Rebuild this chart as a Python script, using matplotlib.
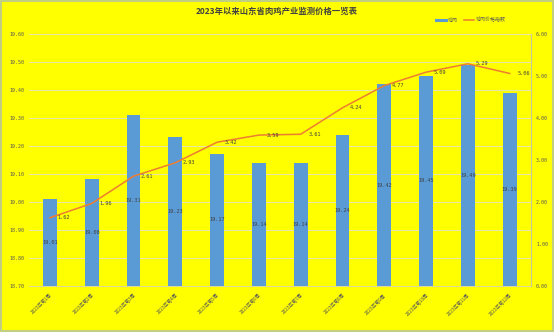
import matplotlib
matplotlib.use("Agg")
import matplotlib.pyplot as plt
from matplotlib.patches import Rectangle

plt.rcParams['font.family'] = ['Noto Sans CJK SC', 'DejaVu Sans']

weeks = ["2023年第1周", "2023年第2周", "2023年第3周", "2023年第4周", "2023年第5周", "2023年第6周",
         "2023年第7周", "2023年第8周", "2023年第9周", "2023年第10周", "2023年第11周", "2023年第12周"]
chicken = [19.01, 19.08, 19.31, 19.23, 19.17, 19.14, 19.14, 19.24, 19.42, 19.45, 19.49, 19.39]
index_vals = [1.62, 1.96, 2.61, 2.93, 3.42, 3.59, 3.61, 4.24, 4.77, 5.09, 5.29, 5.06]
left_ticks = [18.70, 18.80, 18.90, 19.00, 19.10, 19.20, 19.30, 19.40, 19.50, 19.60]
right_ticks = [0, 1, 2, 3, 4, 5, 6]

bg = "#FFFF00"
bar_color = "#5B9BD5"
line_color = "#ED7D31"
text_color = "#595959"
num_font = ["DejaVu Sans Mono"]

fig = plt.figure(figsize=(5.54, 3.32), dpi=100, facecolor=bg)
fig.patches.append(Rectangle((0.002, 0.003), 0.996, 0.994, transform=fig.transFigure,
                             fill=False, edgecolor="#B5C79A", linewidth=1.2))

ax = fig.add_axes([0.0524, 0.1395, 0.9052, 0.7581])
ax.set_facecolor(bg)
x = list(range(len(weeks)))

base = left_ticks[0]
ax.bar(x, [v - base for v in chicken], bottom=base, width=0.33, color=bar_color, zorder=2)
for xi, v in zip(x, chicken):
    ax.text(xi, (base + v) / 2, f"{v:.2f}", ha="center", va="center", fontsize=3.8,
            color="#404040", zorder=4, family=num_font)

ax.set_ylim(left_ticks[0], left_ticks[-1])
ax.set_yticks(left_ticks)
ax.set_yticklabels([f"{t:.2f}" for t in left_ticks], fontsize=3.6, color=text_color,
                   family=num_font)
ax.set_xlim(-0.5, len(weeks) - 0.5)
ax.set_xticks(x)
ax.set_xticklabels(weeks, rotation=45, ha="right", va="top", fontsize=3.4, color=text_color,
                   rotation_mode="anchor")
ax.tick_params(axis="both", length=0, pad=3)
ax.tick_params(axis="x", pad=5)
ax.grid(axis="y", color="#E6E6B0", linewidth=0.7, zorder=0)
for s in ["top", "left", "right"]:
    ax.spines[s].set_visible(False)
ax.spines["bottom"].set_color("#D9D9A0")
ax.spines["bottom"].set_linewidth(0.7)

ax2 = ax.twinx()
ax2.plot(x, index_vals, color=line_color, linewidth=1.1, zorder=3)
for xi, v in zip(x, index_vals):
    ax2.text(xi + 0.18, v, f"{v:.2f}", ha="left", va="center", fontsize=3.8,
             color="#404040", zorder=4, family=num_font)
ax2.set_ylim(right_ticks[0], right_ticks[-1])
ax2.set_yticks(right_ticks)
ax2.set_yticklabels([f"{t:.2f}" for t in right_ticks], fontsize=3.6, color=text_color,
                    family=num_font)
ax2.tick_params(axis="y", length=0, pad=4)
for s in ["top", "left", "bottom"]:
    ax2.spines[s].set_visible(False)
ax2.spines["right"].set_color("#C8C8A0")
ax2.spines["right"].set_linewidth(0.8)

fig.text(0.5, 0.965, "2023年以来山东省肉鸡产业监测价格一览表", ha="center", va="center",
         fontsize=6, fontweight="bold", color="#404040")

handles = [plt.Line2D([], [], color=bar_color, linewidth=2.2),
           plt.Line2D([], [], color=line_color, linewidth=1.1)]
fig.legend(handles, ["鸡肉", "鸡肉价格指数"], loc="center", bbox_to_anchor=(0.85, 0.94),
           ncol=2, frameon=False, fontsize=3.6, handlelength=2.0, columnspacing=1.2,
           handletextpad=0.4, labelcolor=text_color)

fig.savefig("out.png", dpi=100, facecolor=bg)
